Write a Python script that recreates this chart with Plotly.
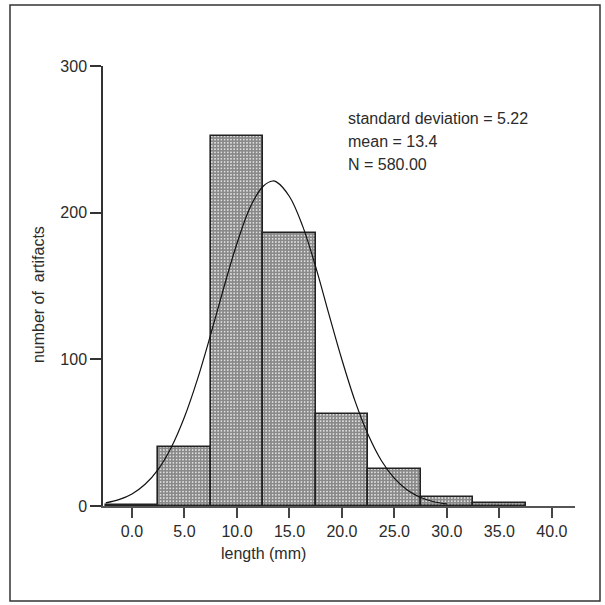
import plotly.graph_objects as go

# Histogram bins (centres, mm) and counts
bin_centers = [0, 5, 10, 15, 20, 25, 30, 35]
counts = [1, 40, 252, 186, 63, 25, 6, 2]
bin_width = 5

# Fitted normal curve points
curve_x = [-2.5, -1.25, 0, 1.25, 2.5, 3.75, 5, 6.25, 7.5, 8.75, 10, 11.25, 12.5,
           13.4, 13.75, 15, 16.25, 17.5, 18.75, 20, 21.25, 22.5, 23.75, 25, 26.25,
           27.5, 28.75, 30]
curve_y = [2.1, 4.3, 8.2, 14.8, 25.0, 40.1, 60.7, 86.7, 117, 149, 179, 203.6, 218,
           221.6, 221, 211, 191, 163, 131, 99.7, 71.5, 48.5, 31, 18.8, 10.7,
           5.8, 2.9, 1.4]

x_ticks = [0, 5, 10, 15, 20, 25, 30, 35, 40]
x_tick_labels = ["0.0", "5.0", "10.0", "15.0", "20.0", "25.0", "30.0", "35.0", "40.0"]
y_ticks = [0, 100, 200, 300]

stats_lines = ["standard deviation = 5.22", "mean = 13.4", "N = 580.00"]

FONT = "Liberation Sans, Arial, sans-serif"
TXT = "#2b2b2b"

fig = go.Figure()
fig.add_trace(go.Bar(
    x=bin_centers, y=counts, width=[bin_width] * len(bin_centers),
    marker=dict(
        color="white",
        line=dict(color="#222222", width=1.6),
        pattern=dict(shape="+", size=3.2, solidity=0.8, fgcolor="#2a2a2a", bgcolor="#e8e8e8"),
    ),
    showlegend=False, hoverinfo="skip",
))
fig.add_trace(go.Scatter(
    x=curve_x, y=curve_y, mode="lines",
    line=dict(color="#111111", width=1.2, shape="spline", smoothing=1.0),
    showlegend=False, hoverinfo="skip",
))

fig.update_layout(
    width=605, height=605, autosize=False,
    margin=dict(l=103, r=30, t=66, b=99),
    paper_bgcolor="white", plot_bgcolor="white",
    font=dict(family=FONT, size=16, color=TXT),
    bargap=0,
)
fig.update_xaxes(
    range=[-2.76, 42.2], tickvals=x_ticks, ticktext=x_tick_labels,
    showgrid=False, zeroline=False, showline=True, linecolor="#555555", linewidth=2,
    ticks="outside", ticklen=10, tickwidth=1.5, tickcolor="#444444",
    tickfont=dict(family=FONT, size=16, color=TXT),
)
fig.update_yaxes(
    range=[0, 300], tickvals=y_ticks,
    showgrid=False, zeroline=False, showline=True, linecolor="#333333", linewidth=1.5,
    ticks="outside", ticklen=11, tickwidth=1.5, tickcolor="#333333",
    tickfont=dict(family=FONT, size=16, color=TXT),
)

# axis titles
fig.add_annotation(text="length (mm)", xref="x", yref="paper", x=12.5, y=-0.084,
                   yanchor="top", showarrow=False, font=dict(family=FONT, size=16, color=TXT))
fig.add_annotation(text="number of\u00a0 artifacts", xref="paper", yref="paper",
                   x=-0.135, xanchor="center", y=0.48, textangle=-90, showarrow=False,
                   font=dict(family=FONT, size=16, color=TXT))

# statistics
for i, line in enumerate(stats_lines):
    fig.add_annotation(text=line, xref="paper", yref="paper", x=(346 - 103) / 472,
                       xanchor="left", y=(506 - (118 + 23 * i)) / 440, yanchor="middle",
                       showarrow=False, font=dict(family=FONT, size=16, color=TXT))

# outer frame
fig.add_shape(type="rect", xref="paper", yref="paper",
              x0=(10 - 103) / 472, x1=(600 - 103) / 472,
              y0=(506 - 601) / 440, y1=(506 - 5) / 440,
              line=dict(color="#333333", width=1.5), layer="below")

fig.write_html("out.html", config={"displayModeBar": False},
               post_script="document.body.style.margin='0';document.body.style.padding='0';")
